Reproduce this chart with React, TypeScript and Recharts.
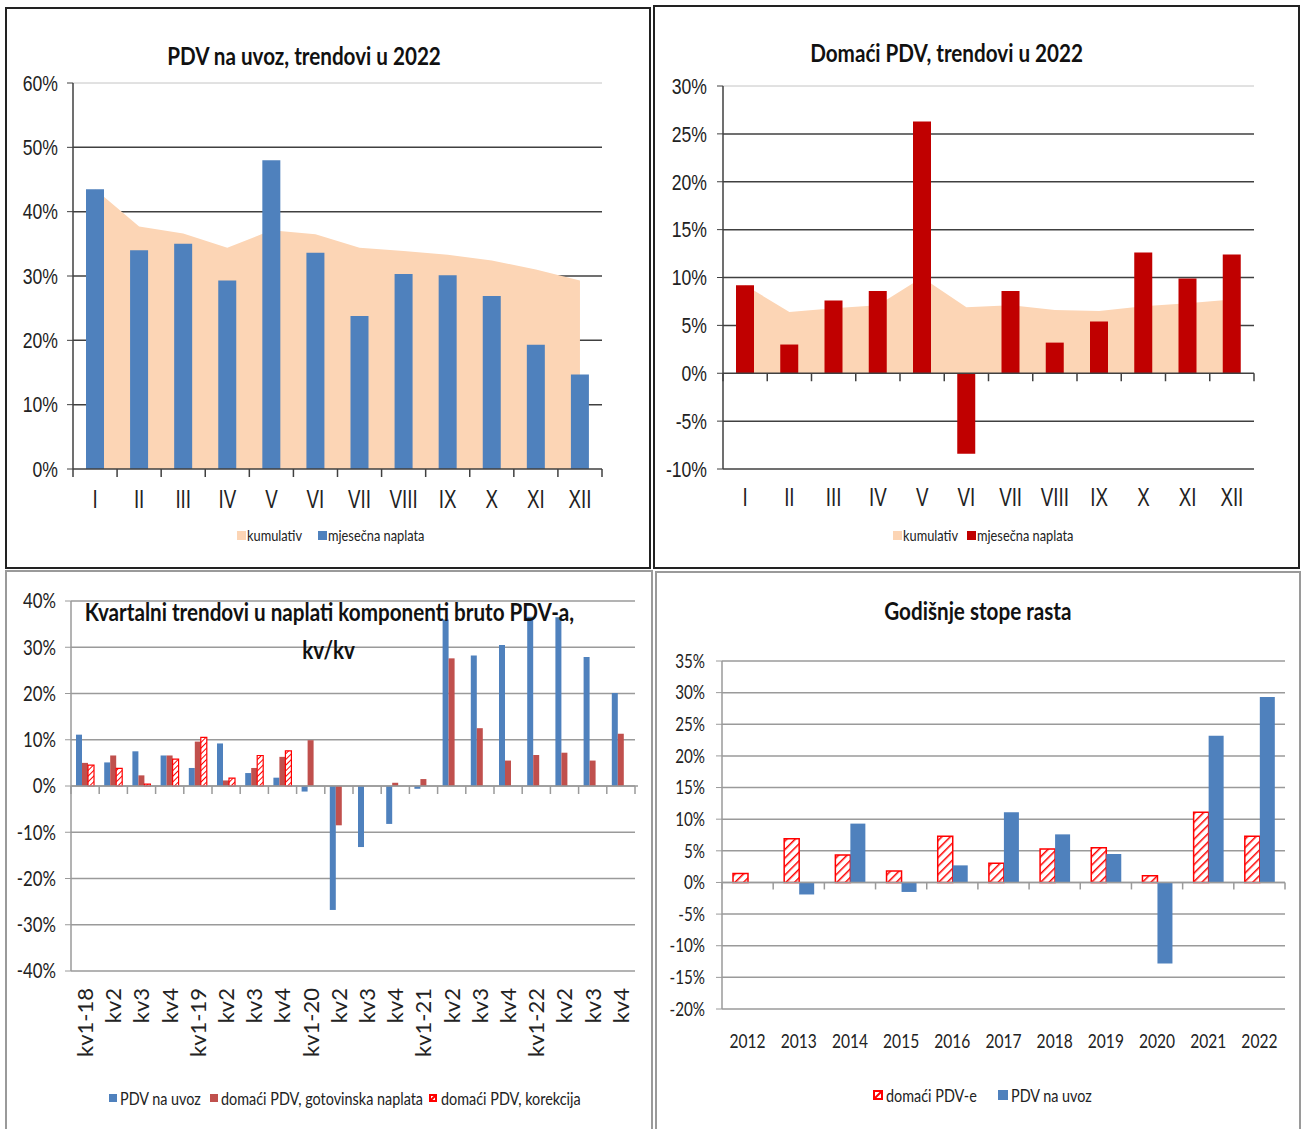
import React from "react";
import {
  ComposedChart,
  Area,
  Bar,
  XAxis,
  YAxis,
  CartesianGrid,
  ReferenceLine,
} from "recharts";

// --- data ---
const months = ["I", "II", "III", "IV", "V", "VI", "VII", "VIII", "IX", "X", "XI", "XII"];
const importMonthly = [43.5, 34, 35, 29.3, 48, 33.6, 23.8, 30.3, 30.1, 26.9, 19.3, 14.7];
const importCumulative = [43.5, 37.7, 36.6, 34.4, 37.1, 36.5, 34.4, 33.9, 33.3, 32.4, 31, 29.3];
const domesticMonthly = [9.2, 3.0, 7.6, 8.6, 26.3, -8.4, 8.6, 3.2, 5.4, 12.6, 9.9, 12.4];
const domesticCumulative = [9.2, 6.4, 6.8, 7.1, 10.0, 6.9, 7.1, 6.6, 6.5, 7.0, 7.3, 7.7];

const quarters = [
  "kv1-18", "kv2", "kv3", "kv4",
  "kv1-19", "kv2", "kv3", "kv4",
  "kv1-20", "kv2", "kv3", "kv4",
  "kv1-21", "kv2", "kv3", "kv4",
  "kv1-22", "kv2", "kv3", "kv4",
];
const qImport = [11.1, 5.1, 7.5, 6.6, 3.9, 9.2, 2.8, 1.8, -1.2, -26.8, -13.2, -8.2, -0.6, 36, 28.2, 30.5, 36.6, 36.5, 27.9, 20.1];
const qCash = [5.0, 6.6, 2.3, 6.6, 9.6, 1.2, 3.9, 6.3, 9.9, -8.5, 0, 0.7, 1.5, 27.6, 12.5, 5.5, 6.7, 7.2, 5.5, 11.3];
const qCorrection = [4.5, 3.8, 0.4, 5.8, 10.5, 1.7, 6.6, 7.6, null, null, null, null, null, null, null, null, null, null, null, null];

const years = ["2012", "2013", "2014", "2015", "2016", "2017", "2018", "2019", "2020", "2021", "2022"];
const yDomestic = [1.4, 6.9, 4.35, 1.8, 7.3, 3.05, 5.3, 5.5, 1.07, 11.1, 7.3];
const yImport = [null, -1.9, 9.3, -1.5, 2.7, 11.1, 7.6, 4.5, -12.8, 23.2, 29.3];

const ticks1 = [0, 10, 20, 30, 40, 50, 60];
const ticks2 = [-10, -5, 0, 5, 10, 15, 20, 25, 30];
const ticks3 = [-40, -30, -20, -10, 0, 10, 20, 30, 40];
const ticks4 = [-20, -15, -10, -5, 0, 5, 10, 15, 20, 25, 30, 35];

const titles = {
  imports: "PDV na uvoz, trendovi u 2022",
  domestic: "Domaći PDV, trendovi u 2022",
  quarterly1: "Kvartalni trendovi u naplati komponenti bruto PDV-a,",
  quarterly2: "kv/kv",
  annual: "Godišnje stope rasta",
};
const legendMonthly = ["kumulativ", "mjesečna naplata"];
const legendQuarterly = ["PDV na uvoz", "domaći PDV, gotovinska naplata", "domaći PDV, korekcija"];
const legendAnnual = ["domaći PDV-e", "PDV na uvoz"];

const ARIAL = "'Liberation Sans', Arial, sans-serif";
const CALIBRI = "Lato, 'Open Sans', sans-serif";
const BLUE = "#4F81BD";
const PEACH = "#FCD5B5";
const DARK_RED = "#C00000";
const BRICK = "#C0504D";
const HATCH_RED = "#FF0000";

const pct = (v: number) => `${v}%`;

const importData = months.map((m, i) => ({ month: m, kumulativ: importCumulative[i], mjesecna: importMonthly[i] }));
const domesticData = months.map((m, i) => ({ month: m, kumulativ: domesticCumulative[i], mjesecna: domesticMonthly[i] }));
const quarterData = quarters.map((q, i) => ({ q, uvoz: qImport[i], gotovinska: qCash[i], korekcija: qCorrection[i] }));
const yearData = years.map((y, i) => ({ year: y, domaci: yDomestic[i], uvoz: yImport[i] }));

// the source image is horizontally squeezed, so labels get a scaleX
const makeTick = (size: number, family: string, sx: number, dy: string, fmt?: (v: any) => string) => (props: any) => {
  const { x, y, payload, textAnchor } = props;
  return (
    <text
      transform={`translate(${x},${y}) scale(${sx},1)`}
      textAnchor={textAnchor}
      dy={dy}
      fontSize={size}
      fontFamily={family}
      fill="#222"
    >
      {fmt ? fmt(payload.value) : payload.value}
    </text>
  );
};

const RotatedTick = ({ x, y, payload }: any) => (
  <text
    x={x}
    y={y}
    transform={`rotate(-90, ${x}, ${y})`}
    textAnchor="end"
    dy="0.36em"
    fontSize={22}
    fontFamily={CALIBRI}
    fill="#222"
  >
    {payload.value}
  </text>
);

// axis line drawn at zero, with Excel style tick marks between categories
const zeroAxis = (count: number, color: string, width: number, tickLen: number, extend = 0) => (p: any) => {
  const step = (p.x2 - p.x1) / count;
  return (
    <g>
      <line x1={p.x1} y1={p.y1} x2={p.x2 + extend} y2={p.y2} stroke={color} strokeWidth={width} />
      {Array.from({ length: count + 1 }, (_, i) => (
        <line key={i} x1={p.x1 + i * step} y1={p.y1} x2={p.x1 + i * step} y2={p.y1 + tickLen} stroke={color} strokeWidth={width} />
      ))}
    </g>
  );
};

const HatchDef = ({ id, size }: { id: string; size: number }) => (
  <defs>
    <pattern id={id} patternUnits="userSpaceOnUse" width={size} height={size} patternTransform="rotate(45)">
      <rect width={size} height={size} fill="#fff" />
      <line x1={0} y1={0} x2={0} y2={size} stroke={HATCH_RED} strokeWidth={size * 0.5} />
    </pattern>
  </defs>
);

type LegendItem = { label: string; kind: "square" | "hatch"; color: string; x: number; tx: number };

function Legend({ items, cy, fontSize, marker }: { items: LegendItem[]; cy: number; fontSize: number; marker: number }) {
  return (
    <>
      {items.map((it, i) => (
        <React.Fragment key={i}>
          {it.kind === "square" ? (
            <div style={{ position: "absolute", left: it.x, top: cy - marker / 2, width: marker, height: marker, background: it.color }} />
          ) : (
            <svg width={marker} height={marker} style={{ position: "absolute", left: it.x, top: cy - marker / 2 }}>
              <rect x={1} y={1} width={marker - 2} height={marker - 2} fill="#fff" stroke={HATCH_RED} strokeWidth={2} />
              <line x1={2} y1={marker - 2} x2={marker - 2} y2={2} stroke={HATCH_RED} strokeWidth={2} />
            </svg>
          )}
          <div style={{ position: "absolute", left: it.tx, top: cy - 12, height: 24, lineHeight: "24px", fontFamily: CALIBRI, fontSize, color: "#222", whiteSpace: "nowrap", transform: "scaleX(0.8)", transformOrigin: "left center" }}>
            {it.label}
          </div>
        </React.Fragment>
      ))}
    </>
  );
}

function Panel({ x, y, w, h, border, children }: { x: number; y: number; w: number; h: number; border: string; children: React.ReactNode }) {
  return (
    <div style={{ position: "absolute", left: x, top: y, width: w, height: h }}>
      {children}
      <div style={{ position: "absolute", inset: 0, border, pointerEvents: "none" }} />
    </div>
  );
}

const Title = ({ cx, cy, text, size }: { cx: number; cy: number; text: string; size: number }) => (
  <div style={{ position: "absolute", left: cx - 350, top: cy - 16, width: 700, textAlign: "center", lineHeight: "32px" }}>
    <span style={{ display: "inline-block", fontFamily: CALIBRI, fontWeight: "bold", fontSize: size, color: "#111", whiteSpace: "nowrap", transform: "scaleX(0.86)", transformOrigin: "center" }}>
      {text}
    </span>
  </div>
);

const arialX = makeTick(25, ARIAL, 0.75, "0.71em");
const arialY = makeTick(22, ARIAL, 0.8, "0.355em", pct);

function ImportChart() {
  return (
    <Panel x={5} y={7} w={646} h={562} border="2px solid #222">
      <ComposedChart width={646} height={562} data={importData} margin={{ top: 76, right: 49, bottom: 60, left: 8 }}>
        <CartesianGrid vertical={false} horizontalValues={[10, 20, 30, 40, 50]} stroke="#404040" strokeWidth={1.5} />
        <XAxis dataKey="month" height={40} axisLine={false} tickLine={false} tickSize={0} tickMargin={21} interval={0} tick={arialX} />
        <YAxis domain={[0, 60]} ticks={ticks1} width={60} axisLine={{ stroke: "#404040", strokeWidth: 1.5 }}
          tickLine={{ stroke: "#404040" }} tickSize={6} tickMargin={9} tick={arialY} />
        <YAxis yAxisId="frame" orientation="right" domain={[0, 60]} width={0} tick={false} tickLine={false} axisLine={{ stroke: "#c4c4c4" }} />
        <ReferenceLine y={60} stroke="#c4c4c4" />
        <Area dataKey="kumulativ" type="linear" fill={PEACH} fillOpacity={1} stroke="none" isAnimationActive={false} />
        <Bar dataKey="mjesecna" fill={BLUE} barSize={18} isAnimationActive={false} />
        <ReferenceLine y={0} shape={zeroAxis(12, "#404040", 1.5, 8)} />
      </ComposedChart>
      <Title cx={299} cy={49} text={titles.imports} size={24} />
      <Legend cy={528} fontSize={16} marker={9}
        items={[
          { label: legendMonthly[0], kind: "square", color: PEACH, x: 232, tx: 242 },
          { label: legendMonthly[1], kind: "square", color: BLUE, x: 313, tx: 323 },
        ]} />
    </Panel>
  );
}

function DomesticChart() {
  return (
    <Panel x={653} y={5} w={647} h={564} border="2px solid #222">
      <ComposedChart width={647} height={564} data={domesticData} margin={{ top: 81, right: 46, bottom: 60, left: 10 }}>
        <CartesianGrid vertical={false} horizontalValues={[-10, -5, 5, 10, 15, 20, 25]} stroke="#404040" strokeWidth={1.5} />
        <XAxis dataKey="month" height={40} axisLine={false} tickLine={false} tickSize={0} tickMargin={19} interval={0} tick={arialX} />
        <YAxis domain={[-10, 30]} ticks={ticks2} width={60} axisLine={{ stroke: "#404040", strokeWidth: 1.5 }}
          tickLine={{ stroke: "#404040" }} tickSize={6} tickMargin={10} tick={arialY} />
        <YAxis yAxisId="frame" orientation="right" domain={[-10, 30]} width={0} tick={false} tickLine={false} axisLine={{ stroke: "#c4c4c4" }} />
        <ReferenceLine y={30} stroke="#c4c4c4" />
        <Area dataKey="kumulativ" type="linear" fill={PEACH} fillOpacity={1} stroke="none" isAnimationActive={false} />
        <Bar dataKey="mjesecna" fill={DARK_RED} barSize={18} isAnimationActive={false} />
        <ReferenceLine y={0} shape={zeroAxis(12, "#404040", 1.5, 8)} />
      </ComposedChart>
      <Title cx={294} cy={48} text={titles.domestic} size={24} />
      <Legend cy={530} fontSize={16} marker={9}
        items={[
          { label: legendMonthly[0], kind: "square", color: PEACH, x: 240, tx: 250 },
          { label: legendMonthly[1], kind: "square", color: DARK_RED, x: 314, tx: 324 },
        ]} />
    </Panel>
  );
}

function QuarterChart() {
  return (
    <Panel x={5} y={570} w={648} h={570} border="2px solid #9a9a9a">
      <ComposedChart width={648} height={570} data={quarterData} margin={{ top: 31, right: 18, bottom: 69, left: 6 }} barGap={0}>
        <HatchDef id="hatchQ" size={4} />
        <CartesianGrid vertical={false} stroke="#9a9a9a" strokeWidth={1.5} />
        <XAxis dataKey="q" height={100} axisLine={false} tickLine={false} tickSize={0} tickMargin={17} interval={0} tick={<RotatedTick />} />
        <YAxis domain={[-40, 40]} ticks={ticks3} width={60} axisLine={{ stroke: "#9a9a9a", strokeWidth: 1.5 }}
          tickLine={{ stroke: "#9a9a9a" }} tickSize={6} tickMargin={9} tick={makeTick(21, CALIBRI, 0.8, "0.355em", pct)} />
        <Bar dataKey="uvoz" fill={BLUE} barSize={6} isAnimationActive={false} />
        <Bar dataKey="gotovinska" fill={BRICK} barSize={6} isAnimationActive={false} />
        <Bar dataKey="korekcija" fill="url(#hatchQ)" stroke={HATCH_RED} strokeWidth={1.2} barSize={6} isAnimationActive={false} />
        <ReferenceLine y={0} shape={zeroAxis(20, "#9a9a9a", 1.5, 8, 3)} />
      </ComposedChart>
      <Title cx={324} cy={42} text={titles.quarterly1} size={24} />
      <Title cx={324} cy={80} text={titles.quarterly2} size={24} />
      <Legend cy={528} fontSize={18} marker={8}
        items={[
          { label: legendQuarterly[0], kind: "square", color: BLUE, x: 104, tx: 115 },
          { label: legendQuarterly[1], kind: "square", color: BRICK, x: 205, tx: 216 },
          { label: legendQuarterly[2], kind: "hatch", color: HATCH_RED, x: 424, tx: 436 },
        ]} />
    </Panel>
  );
}

function AnnualChart() {
  return (
    <Panel x={655} y={571} w={646} h={570} border="2px solid #9a9a9a">
      <ComposedChart width={646} height={570} data={yearData} margin={{ top: 90, right: 16, bottom: 82, left: 7 }} barGap={0}>
        <HatchDef id="hatchY" size={6} />
        <CartesianGrid vertical={false} stroke="#9a9a9a" strokeWidth={1.5} />
        <XAxis dataKey="year" height={50} axisLine={false} tickLine={false} tickSize={0} tickMargin={26} interval={0}
          tick={makeTick(19, CALIBRI, 0.82, "0.71em")} />
        <YAxis domain={[-20, 35]} ticks={ticks4} width={60} axisLine={{ stroke: "#9a9a9a", strokeWidth: 1.5 }}
          tickLine={{ stroke: "#9a9a9a" }} tickSize={6} tickMargin={11} tick={makeTick(19, CALIBRI, 0.8, "0.355em", pct)} />
        <Bar dataKey="domaci" fill="url(#hatchY)" stroke={HATCH_RED} strokeWidth={1.5} barSize={15} isAnimationActive={false} />
        <Bar dataKey="uvoz" fill={BLUE} barSize={15} isAnimationActive={false} />
        <ReferenceLine y={0} shape={zeroAxis(11, "#9a9a9a", 1.5, 7)} />
      </ComposedChart>
      <Title cx={323} cy={40} text={titles.annual} size={24} />
      <Legend cy={524} fontSize={18} marker={10}
        items={[
          { label: legendAnnual[0], kind: "hatch", color: HATCH_RED, x: 218, tx: 231 },
          { label: legendAnnual[1], kind: "square", color: BLUE, x: 343, tx: 356 },
        ]} />
    </Panel>
  );
}

export default function App() {
  return (
    <div style={{ position: "absolute", left: 0, top: 0, width: 1303, height: 1129, background: "#fff", overflow: "hidden" }}>
      <ImportChart />
      <DomesticChart />
      <QuarterChart />
      <AnnualChart />
    </div>
  );
}
